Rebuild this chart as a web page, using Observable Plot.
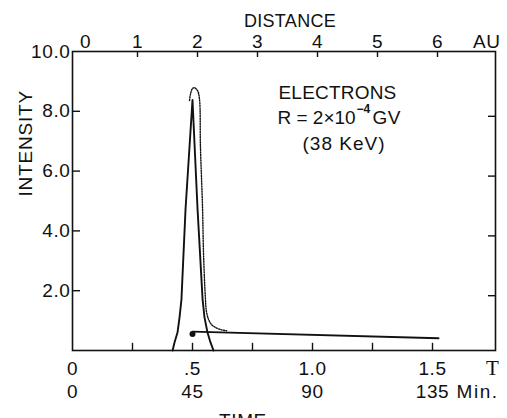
<!DOCTYPE html>
<html>
<head>
<meta charset="utf-8">
<script src="https://cdn.jsdelivr.net/npm/d3@7"></script>
<script src="https://cdn.jsdelivr.net/npm/@observablehq/plot@0.6"></script>
<style>
  html, body { margin: 0; padding: 0; background: #fff; overflow: hidden; }
  #chart svg text { letter-spacing: 0.6px; }
</style>
</head>
<body>
<div id="chart"></div>
<script>
// ---- data ----
const distanceTicks = [0, 1, 2, 3, 4, 5, 6];          // AU (top axis)
const timeTicks = [0, 0.5, 1.0, 1.5];                  // T (bottom axis)
const timeTickLabels = ["0", ".5", "1.0", "1.5"];
const minuteLabels = ["0", "45", "90", "135"];
const minorTimeTicks = [0.25, 0.5, 0.75, 1.0, 1.25, 1.5];
const intensityTicks = [2, 4, 6, 8, 10];
const innerIntensityTicks = [2, 4, 6, 8];

// solid pulse
const solidT = [0.417, 0.425, 0.4375, 0.446, 0.454, 0.471, 0.5, 0.521, 0.542, 0.55, 0.5625, 0.575, 0.5875];
const solidI = [0.0, 0.27, 0.6, 1.11, 1.71, 4.73, 8.38, 4.73, 1.71, 1.11, 0.6, 0.27, 0.0];

// dotted pulse
const dottedT = [0.4875, 0.492, 0.5, 0.508, 0.521, 0.529, 0.533, 0.542, 0.546, 0.554, 0.558, 0.567, 0.579, 0.596, 0.617, 0.642];
const dottedI = [8.36, 8.59, 8.76, 8.79, 8.69, 8.42, 6.85, 4.73, 3.22, 1.71, 1.31, 1.04, 0.87, 0.77, 0.70, 0.66];

// slowly decaying tail
const tailT = [0.5, 1.525];
const tailI = [0.63, 0.41];

// onset point
const onsetT = [0.5];
const onsetI = [0.55];

const solid = solidT.map((t, i) => ({t, v: solidI[i]}));
const dotted = dottedT.map((t, i) => ({t, v: dottedI[i]}));
const tail = tailT.map((t, i) => ({t, v: tailI[i]}));
const onset = onsetT.map((t, i) => ({t, v: onsetI[i]}));

const xMax = 1.7625;
const ink = "#111";
const sans = "'Liberation Sans', Arial, sans-serif";

const chart = Plot.plot({
  width: 507,
  height: 418,
  marginLeft: 72,
  marginRight: 12,
  marginTop: 51,
  marginBottom: 68,
  x: {domain: [0, xMax], axis: null},
  y: {domain: [0, 10], axis: null},
  style: {fontFamily: sans, fontSize: "19px", color: ink, background: "#fff", overflow: "visible"},
  marks: [
    Plot.frame({stroke: ink, strokeWidth: 1.6}),
    // inward ticks
    Plot.ruleX(minorTimeTicks, {x: d => d, y1: 0, y2: 0.24, stroke: ink, strokeWidth: 1.4}),
    Plot.ruleX(distanceTicks.filter(d => d > 0), {x: d => d / 4, y1: 10, y2: 10 - 0.2, dx: 5, stroke: ink, strokeWidth: 1.4}),
    Plot.ruleY(innerIntensityTicks, {y: d => d, x1: 0, x2: 8 / 240, stroke: ink, strokeWidth: 1.4}),
    Plot.ruleY(innerIntensityTicks, {y: d => d, x1: xMax - 7 / 240, x2: xMax, dy: 5, stroke: ink, strokeWidth: 1.4}),
    // curves
    Plot.line(dotted, {x: "t", y: "v", stroke: ink, strokeWidth: 1.4, strokeDasharray: "1.2,1.4", curve: "catmull-rom"}),
    Plot.line(solid, {x: "t", y: "v", stroke: ink, strokeWidth: 1.9, curve: "linear"}),
    Plot.line(tail, {x: "t", y: "v", stroke: ink, strokeWidth: 1.9}),
    Plot.dot(onset, {x: "t", y: "v", r: 3, fill: ink, stroke: "none"}),
    // top axis labels (distance)
    Plot.text(distanceTicks.filter(d => d > 0), {x: d => d / 4, text: d => String(d), frameAnchor: "top", lineAnchor: "bottom", dy: -4, dx: 5}),
    Plot.text(distanceTicks.filter(d => d === 0), {x: d => d / 4, text: d => String(d), frameAnchor: "top", lineAnchor: "bottom", dy: -4, dx: 13}),
    Plot.text(["AU"], {x: xMax, frameAnchor: "top", lineAnchor: "bottom", textAnchor: "end", dy: -4, dx: 5}),
    Plot.text(["DISTANCE"], {frameAnchor: "top", lineAnchor: "bottom", dy: -25, dx: 6, fontSize: 18}),
    // left axis labels
    Plot.text(intensityTicks, {y: d => d, text: d => d.toFixed(1), frameAnchor: "left", textAnchor: "end", lineAnchor: "middle", dx: -2}),
    Plot.text(["INTENSITY"], {y: 5.15, frameAnchor: "left", rotate: -90, dx: -47, lineAnchor: "middle", fontSize: 19}),
    // bottom axis labels
    Plot.text(timeTicks, {x: d => d, text: (d, i) => timeTickLabels[i], frameAnchor: "bottom", lineAnchor: "middle", dy: 18}),
    Plot.text(timeTicks, {x: d => d, text: (d, i) => minuteLabels[i], frameAnchor: "bottom", lineAnchor: "middle", dy: 41}),
    Plot.text(["T"], {x: xMax, frameAnchor: "bottom", lineAnchor: "middle", textAnchor: "end", dy: 18, dx: 4, fontFamily: "'Liberation Serif', serif", fontSize: 21}),
    Plot.text(["Min."], {x: xMax, frameAnchor: "bottom", lineAnchor: "middle", textAnchor: "end", dy: 41, dx: 3}),
    Plot.text(["TIME"], {frameAnchor: "bottom", lineAnchor: "middle", dy: 70, dx: -41, fontSize: 19}),
    // annotation block
    Plot.text(["ELECTRONS"], {frameAnchor: "top-left", textAnchor: "start", lineAnchor: "bottom", dx: 206, dy: 47}),
    Plot.text(["R = 2×10"], {frameAnchor: "top-left", textAnchor: "start", lineAnchor: "bottom", dx: 205, dy: 72}),
    Plot.text(["−4"], {frameAnchor: "top-left", textAnchor: "start", lineAnchor: "bottom", dx: 284, dy: 61, fontSize: 12, fontWeight: "bold"}),
    Plot.text(["GV"], {frameAnchor: "top-left", textAnchor: "start", lineAnchor: "bottom", dx: 300, dy: 72}),
    Plot.text(["(38 KeV)"], {frameAnchor: "top-left", textAnchor: "start", lineAnchor: "bottom", dx: 230, dy: 98})
  ]
});
// per-label letter spacing (lettering in the reference is loosely spaced)
const spacing = {"ELECTRONS": 0.2, "(38 KeV)": 1, "INTENSITY": 0.8, "DISTANCE": 0.3, "Min.": 1.5, "R = 2×10": 0, "GV": 0.5, "−4": 0};
d3.select(chart).selectAll("text").each(function () {
  const s = spacing[this.textContent];
  if (s !== undefined) this.style.letterSpacing = s + "px";
});
document.getElementById("chart").appendChild(chart);
</script>
</body>
</html>
